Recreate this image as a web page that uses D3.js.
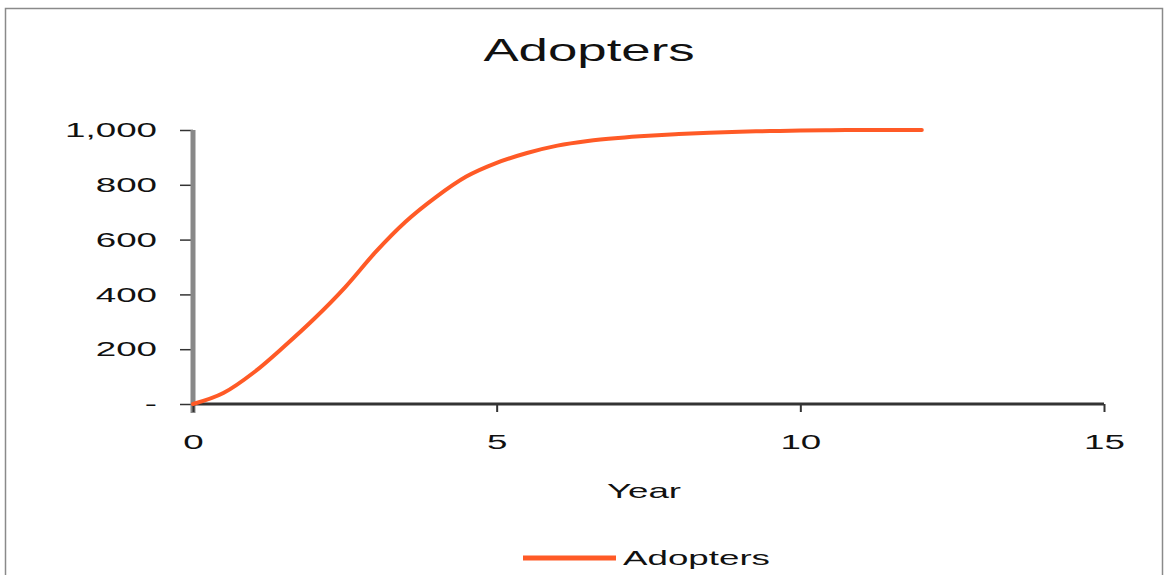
<!DOCTYPE html>
<html>
<head>
<meta charset="utf-8">
<script src="https://cdn.jsdelivr.net/npm/d3@7"></script>
<style>
  body { margin: 0; background: #fff; }
  text { font-family: "Liberation Sans", Arial, sans-serif; fill: #111; }
</style>
</head>
<body>
<script>
// values
const years    = [0, 0.5, 1, 1.5, 2, 2.5, 3, 3.5, 4, 4.5, 5, 5.5, 6, 6.5, 7, 7.5, 8, 8.5, 9, 9.5, 10, 10.5, 11, 11.5, 12];
const adopters = [0, 40, 115, 210, 312, 425, 553, 665, 755, 830, 880, 916, 943, 960, 971, 979, 985, 990, 994, 996, 998, 999, 1000, 1000, 1000];
const xTicks = [0, 5, 10, 15];
const yTicks = [0, 200, 400, 600, 800, 1000];
const seriesName = "Adopters";

const W = 1167, H = 575;
const STRETCH = 1.75; // the source picture is stretched sideways
const LINE_COLOR = "#ff5a26";

const svg = d3.select("body").append("svg")
    .attr("width", W)
    .attr("height", H);

// outer frame
svg.append("rect")
    .attr("x", 5.5).attr("y", 8.5)
    .attr("width", 1157).attr("height", 600)
    .attr("fill", "none")
    .attr("stroke", "#8a8a8a")
    .attr("stroke-width", 1.5);

const x = d3.scaleLinear().domain([0, 15]).range([193, 1104]);
const y = d3.scaleLinear().domain([0, 1000]).range([404, 130]);

// title
svg.append("text")
    .attr("transform", `translate(589,61) scale(1.65,1)`)
    .attr("text-anchor", "middle")
    .style("font-size", "32px")
    .text(seriesName);

// y axis
const yAxis = svg.append("g")
    .attr("transform", `translate(${x(0)},0)`)
    .call(d3.axisLeft(y)
        .tickValues(yTicks)
        .tickSize(13)
        .tickFormat(d => d === 0 ? "-" : d3.format(",")(d)));
yAxis.select(".domain").remove();
yAxis.selectAll(".tick line").attr("stroke", "#333").attr("stroke-width", 1.5);
yAxis.selectAll(".tick text")
    .attr("x", null)
    .attr("transform", `translate(-36,0) scale(${STRETCH},1)`)
    .style("font-size", "21px");
yAxis.append("line")
    .attr("x1", 0).attr("x2", 0)
    .attr("y1", y(1000)).attr("y2", y(0) + 9)
    .attr("stroke", "#888")
    .attr("stroke-width", 5);

// x axis
const xAxis = svg.append("g")
    .attr("transform", `translate(0,${y(0)})`)
    .call(d3.axisBottom(x)
        .tickValues(xTicks)
        .tickSize(8)
        .tickFormat(d3.format("d")));
xAxis.select(".domain").attr("stroke", "#333").attr("stroke-width", 3)
    .attr("d", `M${x(0)},0H${x(15)}`);
xAxis.selectAll(".tick line").attr("stroke", "#333").attr("stroke-width", 2);
xAxis.selectAll(".tick text")
    .attr("y", null).attr("dy", null)
    .attr("transform", `translate(0,45) scale(${STRETCH},1)`)
    .style("font-size", "21px");

// x axis title
svg.append("text")
    .attr("transform", `translate(644,498) scale(${STRETCH},1)`)
    .attr("text-anchor", "middle")
    .style("font-size", "21px")
    .text("Year");

// series line
const line = d3.line()
    .x((d, i) => x(years[i]))
    .y(d => y(d))
    .curve(d3.curveMonotoneX);

svg.append("path")
    .datum(adopters)
    .attr("d", line)
    .attr("fill", "none")
    .attr("stroke", LINE_COLOR)
    .attr("stroke-width", 4)
    .attr("stroke-linecap", "round");

// legend
svg.append("line")
    .attr("x1", 523).attr("x2", 616)
    .attr("y1", 558).attr("y2", 558)
    .attr("stroke", LINE_COLOR)
    .attr("stroke-width", 5);
svg.append("text")
    .attr("transform", `translate(623,565) scale(${STRETCH},1)`)
    .style("font-size", "21px")
    .text(seriesName);
</script>
</body>
</html>
